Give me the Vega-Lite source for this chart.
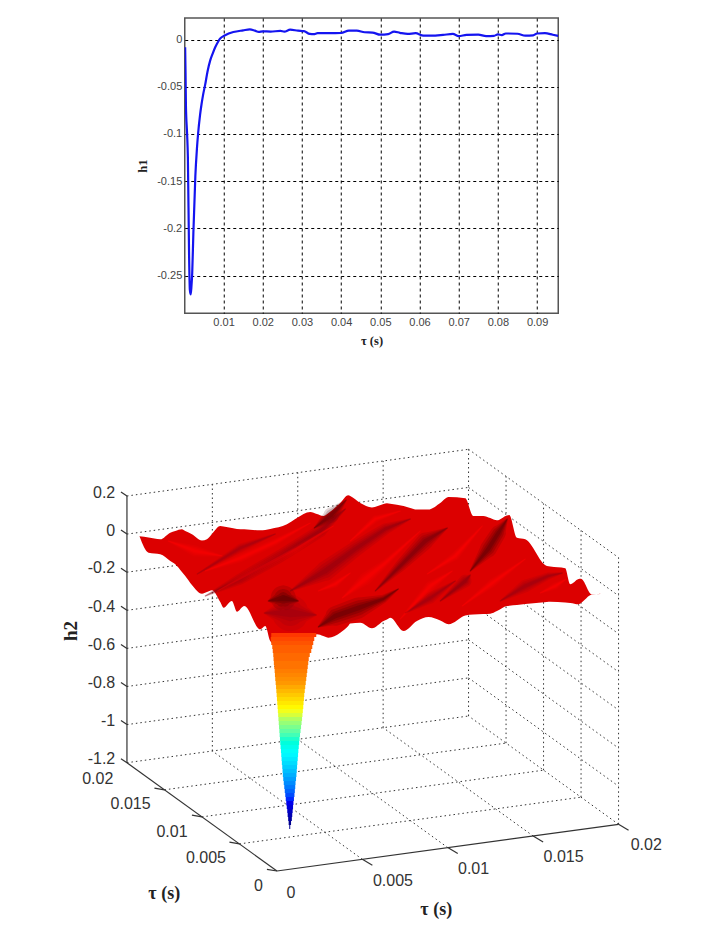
{"$schema":"https://vega.github.io/schema/vega-lite/v6.json","padding":{"left":40,"top":17,"right":0,"bottom":0},"background":"white","bounds":"flush","center":true,"spacing":67,"config":{"view":{"stroke":null}},
"datasets":{
"h1":[{"t":0.0002,"h":-0.008},{"t":0.0003,"h":-0.035},{"t":0.0004,"h":-0.07},{"t":0.0007,"h":-0.1},{"t":0.0009,"h":-0.125},{"t":0.0012,"h":-0.227},{"t":0.0014,"h":-0.265},{"t":0.0016,"h":-0.27},{"t":0.0018,"h":-0.262},{"t":0.002,"h":-0.248},{"t":0.0023,"h":-0.205},{"t":0.0028,"h":-0.145},{"t":0.0032,"h":-0.116},{"t":0.0035,"h":-0.1},{"t":0.004,"h":-0.08},{"t":0.0044,"h":-0.068},{"t":0.0048,"h":-0.058},{"t":0.0053,"h":-0.048},{"t":0.0059,"h":-0.034},{"t":0.0066,"h":-0.022},{"t":0.0072,"h":-0.015},{"t":0.0079,"h":-0.0078},{"t":0.0085,"h":-0.003},{"t":0.0091,"h":0.001},{"t":0.0104,"h":0.0046},{"t":0.0125,"h":0.008},{"t":0.015,"h":0.0098},{"t":0.0167,"h":0.0108},{"t":0.018,"h":0.0095},{"t":0.019,"h":0.0082},{"t":0.02,"h":0.0088},{"t":0.022,"h":0.0085},{"t":0.0245,"h":0.0092},{"t":0.0255,"h":0.0085},{"t":0.027,"h":0.0105},{"t":0.029,"h":0.0095},{"t":0.0305,"h":0.009},{"t":0.032,"h":0.006},{"t":0.033,"h":0.0058},{"t":0.034,"h":0.0068},{"t":0.037,"h":0.0068},{"t":0.04,"h":0.007},{"t":0.042,"h":0.0095},{"t":0.044,"h":0.0095},{"t":0.046,"h":0.0078},{"t":0.048,"h":0.0075},{"t":0.05,"h":0.0052},{"t":0.052,"h":0.0058},{"t":0.0535,"h":0.0085},{"t":0.055,"h":0.0072},{"t":0.057,"h":0.006},{"t":0.059,"h":0.0068},{"t":0.061,"h":0.0042},{"t":0.063,"h":0.0042},{"t":0.066,"h":0.005},{"t":0.0685,"h":0.006},{"t":0.07,"h":0.0038},{"t":0.072,"h":0.005},{"t":0.075,"h":0.0052},{"t":0.077,"h":0.0038},{"t":0.079,"h":0.004},{"t":0.08,"h":0.0055},{"t":0.081,"h":0.0048},{"t":0.082,"h":0.0065},{"t":0.085,"h":0.0062},{"t":0.087,"h":0.0042},{"t":0.089,"h":0.0045},{"t":0.09,"h":0.0065},{"t":0.092,"h":0.0068},{"t":0.094,"h":0.0052},{"t":0.0954,"h":0.004}],
"grid":[{"u":239.2,"v":842.9,"u2":580.8,"v2":796.2},{"u":201.7,"v":815.9,"u2":543.3,"v2":769.2},{"u":164.2,"v":788.8,"u2":505.8,"v2":742.1},{"u":126.7,"v":761.7,"u2":468.3,"v2":715},{"u":362.1,"v":858.3,"u2":212.1,"v2":750},{"u":447.5,"v":846.6,"u2":297.5,"v2":738.3},{"u":532.9,"v":835,"u2":382.9,"v2":726.7},{"u":618.3,"v":823.3,"u2":468.3,"v2":715},
{"u":126.7,"v":723.6,"u2":468.3,"v2":676.9},{"u":126.7,"v":685.5,"u2":468.3,"v2":638.8},{"u":126.7,"v":647.4,"u2":468.3,"v2":600.7},{"u":126.7,"v":609.3,"u2":468.3,"v2":562.6},{"u":126.7,"v":571.2,"u2":468.3,"v2":524.5},{"u":126.7,"v":533.1,"u2":468.3,"v2":486.4},{"u":126.7,"v":495,"u2":468.3,"v2":448.3},
{"u":468.3,"v":676.9,"u2":618.3,"v2":785.2},{"u":468.3,"v":638.8,"u2":618.3,"v2":747.1},{"u":468.3,"v":600.7,"u2":618.3,"v2":709},{"u":468.3,"v":562.6,"u2":618.3,"v2":670.9},{"u":468.3,"v":524.5,"u2":618.3,"v2":632.8},{"u":468.3,"v":486.4,"u2":618.3,"v2":594.7},{"u":468.3,"v":448.3,"u2":618.3,"v2":556.6},
{"u":212.1,"v":750,"u2":212.1,"v2":483.3},{"u":297.5,"v":738.3,"u2":297.5,"v2":471.6},{"u":382.9,"v":726.7,"u2":382.9,"v2":460},{"u":468.3,"v":715,"u2":468.3,"v2":448.3},{"u":505.8,"v":742.1,"u2":505.8,"v2":475.4},{"u":543.3,"v":769.2,"u2":543.3,"v2":502.5},{"u":580.8,"v":796.2,"u2":580.8,"v2":529.5},{"u":618.3,"v":823.3,"u2":618.3,"v2":556.6}],
"frame":[{"u":126.7,"v":761.7,"u2":126.7,"v2":495},{"u":126.7,"v":761.7,"u2":276.7,"v2":870},{"u":276.7,"v":870,"u2":618.3,"v2":823.3},
{"u":120.7,"v":491,"u2":126.7,"v2":495},{"u":120.7,"v":529.1,"u2":126.7,"v2":533.1},{"u":120.7,"v":567.2,"u2":126.7,"v2":571.2},{"u":120.7,"v":605.3,"u2":126.7,"v2":609.3},{"u":120.7,"v":643.4,"u2":126.7,"v2":647.4},{"u":120.7,"v":681.5,"u2":126.7,"v2":685.5},{"u":120.7,"v":719.6,"u2":126.7,"v2":723.6},{"u":120.7,"v":757.7,"u2":126.7,"v2":761.7},
{"u":154.2,"v":787.1,"u2":164.2,"v2":788.8},{"u":191.7,"v":814.2,"u2":201.7,"v2":815.9},{"u":229.2,"v":841.2,"u2":239.2,"v2":842.9},{"u":266.7,"v":868.3,"u2":276.7,"v2":870},
{"u":362.1,"v":858.3,"u2":372.1,"v2":864.3},{"u":447.5,"v":846.6,"u2":457.5,"v2":852.6},{"u":532.9,"v":835,"u2":542.9,"v2":841},{"u":618.3,"v":823.3,"u2":628.3,"v2":829.3}],
"surface":[{"u":139.3,"v":535.3,"v2":535.5},{"u":148.3,"v":536.5,"v2":551.7},{"u":160,"v":538.3,"v2":553.3},{"u":170,"v":531.7,"v2":560},{"u":175,"v":530,"v2":563.3},{"u":181.7,"v":528.3,"v2":571},{"u":185,"v":530,"v2":575},{"u":191.7,"v":533.3,"v2":584},{"u":201.7,"v":539.5,"v2":592.7},{"u":206.7,"v":538.3,"v2":591},{"u":211.7,"v":533,"v2":589.3},{"u":220,"v":525,"v2":601},{"u":223.3,"v":525.5,"v2":606.7},{"u":231.7,"v":527,"v2":600},{"u":236.7,"v":528,"v2":610.7},{"u":244,"v":528.3,"v2":605},{"u":260,"v":529.3,"v2":628.3},{"u":265,"v":529,"v2":625},{"u":270,"v":528,"v2":640},{"u":286.7,"v":523.3,"v2":652},{"u":296.7,"v":517,"v2":645},{"u":310,"v":511,"v2":640},{"u":316.7,"v":513,"v2":633.3},{"u":323,"v":515,"v2":635},{"u":328.3,"v":512,"v2":636.7},{"u":340,"v":502,"v2":631.7},{"u":348,"v":494.3,"v2":625},{"u":350,"v":495,"v2":622.5},{"u":360,"v":502,"v2":621.7},{"u":371.7,"v":506.5,"v2":627.3},{"u":383.3,"v":503,"v2":620},{"u":386.7,"v":502.3,"v2":618.5},{"u":390,"v":502.7,"v2":616.7},{"u":403.3,"v":505,"v2":630},{"u":416.7,"v":508.5,"v2":620},{"u":428.3,"v":508.5,"v2":616},{"u":440,"v":502,"v2":619.5},{"u":448.3,"v":496,"v2":623.3},{"u":465,"v":497.3,"v2":614.5},{"u":473,"v":515,"v2":613.5},{"u":483,"v":515,"v2":613},{"u":490,"v":517,"v2":612.7},{"u":496.7,"v":519.3,"v2":610},{"u":506.7,"v":514.5,"v2":605},{"u":509,"v":514,"v2":604.7},{"u":516.7,"v":536.7,"v2":604},{"u":525,"v":538.3,"v2":603},{"u":546.7,"v":565,"v2":601},{"u":550,"v":565.5,"v2":600.7},{"u":565,"v":567.3,"v2":601.5},{"u":570,"v":583.3,"v2":602},{"u":578.3,"v":578,"v2":603.3},{"u":580.7,"v":577.7,"v2":602},{"u":591.7,"v":593.3,"v2":593.6},{"u":600,"v":592.7,"v2":592.9}],
"bands":[
{"b":"h0","s":0.45,"w":1,"u":264,"v":612},{"b":"h0","s":0.45,"w":26,"u":290,"v":612},{"b":"h0","s":0.45,"w":1,"u":316,"v":614},
{"b":"h1","s":0.02,"w":1,"u":268,"v":600},{"b":"h1","s":0.02,"w":18,"u":283,"v":597},{"b":"h1","s":0.02,"w":1,"u":298,"v":600},
{"b":"s1","s":0.4,"w":1,"u":205,"v":595},{"b":"s1","s":0.4,"w":8,"u":240,"v":578},{"b":"s1","s":0.4,"w":9,"u":280,"v":555},{"b":"s1","s":0.4,"w":9,"u":320,"v":530},{"b":"s1","s":0.4,"w":1,"u":345,"v":508},
{"b":"s1b","s":0.12,"w":1,"u":314,"v":527},{"b":"s1b","s":0.12,"w":11,"u":331,"v":514},{"b":"s1b","s":0.12,"w":1,"u":346,"v":499},
{"b":"s2","s":0.5,"w":1,"u":197,"v":573},{"b":"s2","s":0.5,"w":6,"u":240,"v":547},{"b":"s2","s":0.5,"w":1,"u":275,"v":533},
{"b":"s3","s":0.4,"w":1,"u":290,"v":590},{"b":"s3","s":0.4,"w":14,"u":325,"v":570},{"b":"s3","s":0.4,"w":11,"u":355,"v":548},{"b":"s3","s":0.4,"w":8,"u":385,"v":528},{"b":"s3","s":0.4,"w":1,"u":410,"v":518},
{"b":"s5","s":0.22,"w":1,"u":375,"v":590},{"b":"s5","s":0.22,"w":8,"u":400,"v":565},{"b":"s5","s":0.22,"w":12,"u":425,"v":540},{"b":"s5","s":0.22,"w":1,"u":447,"v":527},
{"b":"s6","s":0.35,"w":1,"u":440,"v":600},{"b":"s6","s":0.35,"w":9,"u":465,"v":580},{"b":"s6","s":0.35,"w":1,"u":470,"v":574},
{"b":"s6b","s":0.08,"w":1,"u":470,"v":570},{"b":"s6b","s":0.08,"w":12,"u":488,"v":548},{"b":"s6b","s":0.08,"w":11,"u":498,"v":532},{"b":"s6b","s":0.08,"w":1,"u":507,"v":518},
{"b":"s7","s":0.45,"w":1,"u":500,"v":600},{"b":"s7","s":0.45,"w":9,"u":525,"v":585},{"b":"s7","s":0.45,"w":5,"u":548,"v":575},{"b":"s7","s":0.45,"w":1,"u":562,"v":572},
{"b":"s8","s":0.08,"w":1,"u":318,"v":626},{"b":"s8","s":0.08,"w":14,"u":335,"v":615},{"b":"s8","s":0.08,"w":15,"u":358,"v":607},{"b":"s8","s":0.08,"w":6,"u":383,"v":598},{"b":"s8","s":0.08,"w":1,"u":398,"v":588},
{"b":"s9","s":0.45,"w":1,"u":405,"v":612},{"b":"s9","s":0.45,"w":8,"u":430,"v":597},{"b":"s9","s":0.45,"w":1,"u":455,"v":580},
{"b":"l1","s":1,"w":1,"u":205,"v":570},{"b":"l1","s":1,"w":6,"u":240,"v":557},{"b":"l1","s":1,"w":5,"u":275,"v":541},{"b":"l1","s":1,"w":1,"u":310,"v":522},
{"b":"l2","s":1,"w":1,"u":217,"v":590},{"b":"l2","s":1,"w":6,"u":250,"v":572},{"b":"l2","s":1,"w":6,"u":295,"v":548},{"b":"l2","s":1,"w":1,"u":333,"v":525},
{"b":"l3","s":1,"w":1,"u":318,"v":590},{"b":"l3","s":1,"w":5,"u":335,"v":583},{"b":"l3","s":1,"w":1,"u":350,"v":572},
{"b":"l3b","s":1,"w":1,"u":350,"v":540},{"b":"l3b","s":1,"w":5,"u":375,"v":518},{"b":"l3b","s":1,"w":1,"u":400,"v":510},
{"b":"l4","s":1,"w":1,"u":342,"v":597},{"b":"l4","s":1,"w":9,"u":365,"v":578},{"b":"l4","s":1,"w":5,"u":385,"v":562},{"b":"l4","s":1,"w":1,"u":420,"v":530},
{"b":"l5","s":1,"w":1,"u":427,"v":573},{"b":"l5","s":1,"w":6,"u":455,"v":555},{"b":"l5","s":1,"w":1,"u":482,"v":525},
{"b":"l6","s":1,"w":1,"u":462,"v":605},{"b":"l6","s":1,"w":6,"u":492,"v":582},{"b":"l6","s":1,"w":1,"u":525,"v":558},
{"b":"l7","s":1,"w":1,"u":400,"v":618},{"b":"l7","s":1,"w":7,"u":430,"v":585},{"b":"l7","s":1,"w":1,"u":452,"v":570},
{"b":"l8","s":1,"w":1,"u":168,"v":540},{"b":"l8","s":1,"w":8,"u":195,"v":550},{"b":"l8","s":1,"w":1,"u":222,"v":555},
{"b":"l9","s":1,"w":1,"u":540,"v":592},{"b":"l9","s":1,"w":5,"u":555,"v":585},{"b":"l9","s":1,"w":1,"u":566,"v":578}
],
"spike":[{"v":632,"u":271,"u2":316,"h":-0.34},{"v":636,"u":270.5,"u2":314,"h":-0.35},{"v":640,"u":271,"u2":313,"h":-0.36},{"v":644,"u":272,"u2":312,"h":-0.37},{"v":648,"u":272.5,"u2":311,"h":-0.37},{"v":652,"u":273,"u2":309.5,"h":-0.38},{"v":656,"u":273.3,"u2":308.5,"h":-0.38},{"v":660,"u":273.6,"u2":308,"h":-0.39},{"v":664,"u":274,"u2":307.5,"h":-0.39},{"v":668,"u":274.4,"u2":307,"h":-0.4},{"v":672,"u":274.7,"u2":306.5,"h":-0.41},{"v":676,"u":275,"u2":306,"h":-0.42},{"v":680,"u":275.4,"u2":305.5,"h":-0.43},{"v":684,"u":275.8,"u2":305,"h":-0.45},{"v":688,"u":276.1,"u2":304.5,"h":-0.47},{"v":692,"u":276.4,"u2":304,"h":-0.49},{"v":696,"u":276.7,"u2":303.7,"h":-0.51},{"v":700,"u":277,"u2":303.3,"h":-0.53},{"v":704,"u":277.3,"u2":303,"h":-0.55},{"v":708,"u":277.6,"u2":302.6,"h":-0.57},{"v":712,"u":277.9,"u2":302.2,"h":-0.59},{"v":716,"u":278.2,"u2":301.8,"h":-0.62},{"v":720,"u":278.5,"u2":301.3,"h":-0.64},{"v":724,"u":278.8,"u2":300.8,"h":-0.66},{"v":728,"u":279.1,"u2":300.3,"h":-0.68},{"v":732,"u":279.4,"u2":299.8,"h":-0.7},{"v":736,"u":279.7,"u2":299.3,"h":-0.72},{"v":740,"u":280,"u2":298.9,"h":-0.74},{"v":744,"u":280.3,"u2":298.5,"h":-0.76},{"v":748,"u":280.7,"u2":298.1,"h":-0.78},{"v":752,"u":281,"u2":297.8,"h":-0.8},{"v":756,"u":281.3,"u2":297.5,"h":-0.82},{"v":760,"u":281.6,"u2":297.1,"h":-0.84},{"v":764,"u":282,"u2":296.8,"h":-0.86},{"v":768,"u":282.3,"u2":296.5,"h":-0.88},{"v":772,"u":282.6,"u2":296.2,"h":-0.9},{"v":776,"u":283,"u2":295.8,"h":-0.92},{"v":780,"u":283.5,"u2":295.3,"h":-0.94},{"v":784,"u":284,"u2":295,"h":-0.96},{"v":788,"u":284.5,"u2":294.6,"h":-0.98},{"v":792,"u":285,"u2":294.2,"h":-1},{"v":796,"u":285.5,"u2":293.7,"h":-1.02},{"v":800,"u":286,"u2":293.2,"h":-1.05},{"v":804,"u":286.5,"u2":292.8,"h":-1.07},{"v":808,"u":287,"u2":292.4,"h":-1.09},{"v":812,"u":287.4,"u2":292,"h":-1.11},{"v":816,"u":287.9,"u2":291.6,"h":-1.13},{"v":820,"u":288.4,"u2":290.8,"h":-1.15},{"v":824,"u":289,"u2":290,"h":-1.15}],
"zlabels":[{"u":115,"v":491.7,"text":"0.2"},{"u":115,"v":530,"text":"0"},{"u":115,"v":567,"text":"-0.2"},{"u":115,"v":606,"text":"-0.4"},{"u":115,"v":644,"text":"-0.6"},{"u":115,"v":681.7,"text":"-0.8"},{"u":115,"v":720,"text":"-1"},{"u":115,"v":758,"text":"-1.2"}],
"floorlabels":[{"u":97.5,"v":778,"text":"0.02"},{"u":130.3,"v":803,"text":"0.015"},{"u":171.7,"v":830.7,"text":"0.01"},{"u":205.7,"v":856.7,"text":"0.005"},{"u":258.3,"v":885,"text":"0"},{"u":290.7,"v":891.7,"text":"0"},{"u":392.7,"v":880,"text":"0.005"},{"u":473.3,"v":867.7,"text":"0.01"},{"u":563.3,"v":855.7,"text":"0.015"},{"u":646,"v":844.3,"text":"0.02"}],
"titles":[{"u":164,"v":893.3,"text":"τ (s)"},{"u":436,"v":909.3,"text":"τ (s)"}],
"ztitle":[{"u":70.7,"v":630,"text":"h2"}]
},
"vconcat":[
{"width":373.5,"height":295.3,"view":{"stroke":"#555555","strokeWidth":1.5},"data":{"name":"h1"},
"mark":{"type":"line","color":"#1414f0","strokeWidth":2.2,"clip":true,"interpolate":"monotone"},
"encoding":{
"x":{"field":"t","type":"quantitative","scale":{"domain":[0.0001,0.0954],"nice":false,"zero":false},
"axis":{"values":[0.01,0.02,0.03,0.04,0.05,0.06,0.07,0.08,0.09],"labelExpr":"''+datum.value","title":"τ (s)","titleFont":"Liberation Serif","titleFontWeight":"bold","titleFontSize":12.5,"titleColor":"#222222","titlePadding":7,"labelFont":"Liberation Sans","labelFontSize":11,"labelColor":"#444444","labelPadding":3,"ticks":false,"domain":false,"grid":true,"gridColor":"#000000","gridDash":[3,3],"gridOpacity":1,"gridWidth":1,"labelFlush":false,"labelOverlap":false}},
"y":{"field":"h","type":"quantitative","scale":{"domain":[-0.29,0.0229],"nice":false,"zero":false},
"axis":{"values":[0,-0.05,-0.1,-0.15,-0.2,-0.25],"labelExpr":"''+datum.value","title":"h1","titleFont":"Liberation Serif","titleFontWeight":"bold","titleFontSize":12.5,"titleColor":"#222222","titlePadding":7,"labelFont":"Liberation Sans","labelFontSize":11,"labelColor":"#444444","labelPadding":3,"ticks":false,"domain":false,"grid":true,"gridColor":"#000000","gridDash":[3,3],"gridOpacity":1,"gridWidth":1,"labelFlush":false,"labelOverlap":false}}}},
{"width":662.5,"height":554,"resolve":{"scale":{"color":"independent","size":"independent"}},
"encoding":{"x":{"field":"u","type":"quantitative","scale":{"domain":[40,702.5],"nice":false,"zero":false},"axis":null},"y":{"field":"v","type":"quantitative","scale":{"domain":[934,380],"nice":false,"zero":false},"axis":null}},
"layer":[
{"data":{"name":"grid"},"mark":{"type":"rule","color":"#333333","strokeWidth":1,"strokeDash":[1.5,3]},"encoding":{"x2":{"field":"u2"},"y2":{"field":"v2"}}},
{"data":{"name":"frame"},"mark":{"type":"rule","color":"#333333","strokeWidth":1.2},"encoding":{"x2":{"field":"u2"},"y2":{"field":"v2"}}},
{"data":{"name":"surface"},"mark":{"type":"area","color":"#dc0000","interpolate":"monotone"},"encoding":{"y2":{"field":"v2"}}},
{"data":{"name":"bands"},"mark":{"type":"trail","opacity":0.16},"encoding":{"detail":{"field":"b"},"order":{"field":"u"},"color":{"field":"s","type":"quantitative","scale":{"domain":[0,1],"range":["#3a0000","#ff0000"]},"legend":null},"size":{"field":"w","type":"quantitative","scale":{"domain":[0,30],"range":[0,42]},"legend":null}}},
{"data":{"name":"bands"},"mark":{"type":"trail","opacity":0.2},"encoding":{"detail":{"field":"b"},"order":{"field":"u"},"color":{"field":"s","type":"quantitative","scale":{"domain":[0,1],"range":["#3a0000","#ff0000"]},"legend":null},"size":{"field":"w","type":"quantitative","scale":{"domain":[0,30],"range":[0,30]},"legend":null}}},
{"data":{"name":"bands"},"mark":{"type":"trail","opacity":0.25},"encoding":{"detail":{"field":"b"},"order":{"field":"u"},"color":{"field":"s","type":"quantitative","scale":{"domain":[0,1],"range":["#3a0000","#ff0000"]},"legend":null},"size":{"field":"w","type":"quantitative","scale":{"domain":[0,30],"range":[0,19]},"legend":null}}},
{"data":{"name":"bands"},"mark":{"type":"trail","opacity":0.3},"encoding":{"detail":{"field":"b"},"order":{"field":"u"},"color":{"field":"s","type":"quantitative","scale":{"domain":[0,1],"range":["#3a0000","#ff0000"]},"legend":null},"size":{"field":"w","type":"quantitative","scale":{"domain":[0,30],"range":[0,10]},"legend":null}}},
{"data":{"name":"spike"},"transform":[{"calculate":"datum.v+4","as":"vb"}],"mark":{"type":"rect"},"encoding":{"x2":{"field":"u2"},"y2":{"field":"vb"},"color":{"field":"h","type":"quantitative","scale":{"domain":[-1.15,-1.03,-0.79,-0.56,-0.32,-0.2],"range":["#00008f","#0000ff","#00ffff","#ffff00","#ff0000","#800000"]},"legend":null}}},
{"data":{"name":"zlabels"},"mark":{"type":"text","align":"right","baseline":"middle","font":"Liberation Sans","fontSize":16,"color":"#333333"},"encoding":{"text":{"field":"text"}}},
{"data":{"name":"floorlabels"},"mark":{"type":"text","align":"center","baseline":"middle","font":"Liberation Sans","fontSize":16,"color":"#333333"},"encoding":{"text":{"field":"text"}}},
{"data":{"name":"titles"},"mark":{"type":"text","align":"center","baseline":"middle","font":"Liberation Serif","fontWeight":"bold","fontSize":18,"color":"#222222"},"encoding":{"text":{"field":"text"}}},
{"data":{"name":"ztitle"},"mark":{"type":"text","align":"center","baseline":"middle","angle":270,"font":"Liberation Serif","fontWeight":"bold","fontSize":19,"color":"#222222"},"encoding":{"text":{"field":"text"}}}
]}
]}
